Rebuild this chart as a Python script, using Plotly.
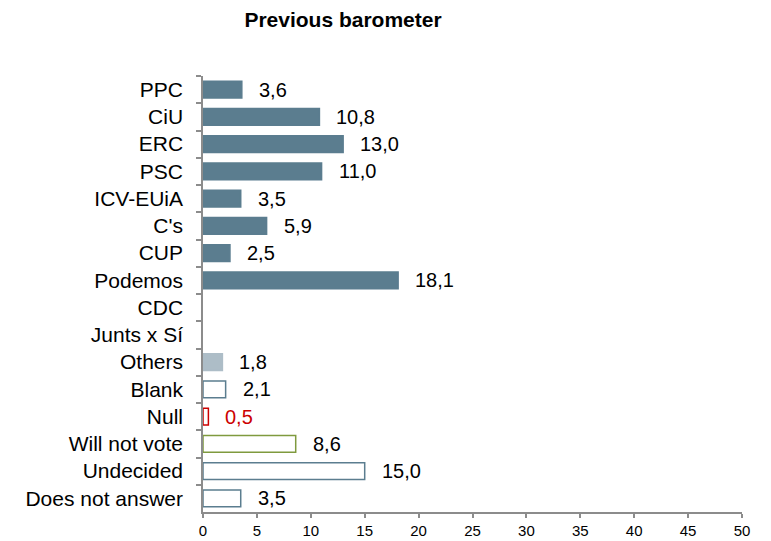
import plotly.graph_objects as go

# ── Data ──────────────────────────────────────────────────────────────────────
categories = [
    "PPC", "CiU", "ERC", "PSC", "ICV-EUiA", "C's", "CUP", "Podemos", "CDC",
    "Junts x Sí", "Others", "Blank", "Null", "Will not vote", "Undecided",
    "Does not answer",
]
values = [3.6, 10.8, 13.0, 11.0, 3.5, 5.9, 2.5, 18.1, None, None,
          1.8, 2.1, 0.5, 8.6, 15.0, 3.5]
x_ticks = [0, 5, 10, 15, 20, 25, 30, 35, 40, 45, 50]

# ── Styles ────────────────────────────────────────────────────────────────────
_C = {
    "party":  "#5B7D8F",
    "others": "#ADBDC7",
    "null":   "#CC0000",
    "green":  "#7F9A3E",
    "axis":   "#8C8C8C",
    "text":   "#000000",
}
_FONT = "Liberation Sans, Arial, sans-serif"

fill_colors, line_colors, text_colors = [], [], []
for cat in categories:
    if cat in ("Blank", "Undecided", "Does not answer"):
        fill_colors.append("white"); line_colors.append(_C["party"]); text_colors.append(_C["text"])
    elif cat == "Null":
        fill_colors.append("white"); line_colors.append(_C["null"]); text_colors.append(_C["null"])
    elif cat == "Will not vote":
        fill_colors.append("white"); line_colors.append(_C["green"]); text_colors.append(_C["text"])
    elif cat == "Others":
        fill_colors.append(_C["others"]); line_colors.append(_C["others"]); text_colors.append(_C["text"])
    else:
        fill_colors.append(_C["party"]); line_colors.append(_C["party"]); text_colors.append(_C["text"])

fig = go.Figure(go.Bar(
    x=values,
    y=categories,
    orientation="h",
    width=0.62,
    marker=dict(color=fill_colors, line=dict(color=line_colors, width=1.5)),
    hoverinfo="skip",
))

# value labels, comma as decimal separator
for cat, v, tc in zip(categories, values, text_colors):
    if v is None:
        continue
    fig.add_annotation(
        x=v, y=cat, text=f"{v:.1f}".replace(".", ","),
        xanchor="left", yanchor="middle", xshift=15, showarrow=False,
        font=dict(family=_FONT, size=20, color=tc),
    )

fig.update_layout(
    width=771, height=541,
    paper_bgcolor="white", plot_bgcolor="white",
    font=dict(family=_FONT, size=20, color=_C["text"]),
    title=dict(
        text="<b>Previous barometer</b>",
        x=343 / 771, xanchor="center", xref="container",
        y=1 - 20 / 541, yanchor="middle", yref="container",
        font=dict(family=_FONT, size=21, color=_C["text"]),
    ),
    margin=dict(l=203, r=29, t=76, b=29),
    showlegend=False,
    xaxis=dict(
        range=[0, 50], tickvals=x_ticks, showgrid=False, zeroline=False,
        showline=True, linecolor=_C["axis"], linewidth=1.5,
        ticks="outside", ticklen=4, tickcolor=_C["axis"], tickwidth=1.5,
        tickfont=dict(family=_FONT, size=15, color=_C["text"]),
        automargin=False,
    ),
    yaxis=dict(
        categoryorder="array", categoryarray=categories, autorange="reversed",
        showgrid=False, zeroline=False,
        showline=True, linecolor=_C["axis"], linewidth=1.5,
        ticks="outside", ticklen=5, tickcolor=_C["axis"], tickwidth=1.5,
        tickson="boundaries", ticklabelstandoff=14,
        tickfont=dict(family=_FONT, size=21, color=_C["text"]),
        automargin=False,
    ),
)

# the page's default body margin would shift the fixed-size figure by 8px
fig.write_html(
    "out.html",
    config={"displayModeBar": False},
    post_script="document.body.style.margin = '0';",
)
